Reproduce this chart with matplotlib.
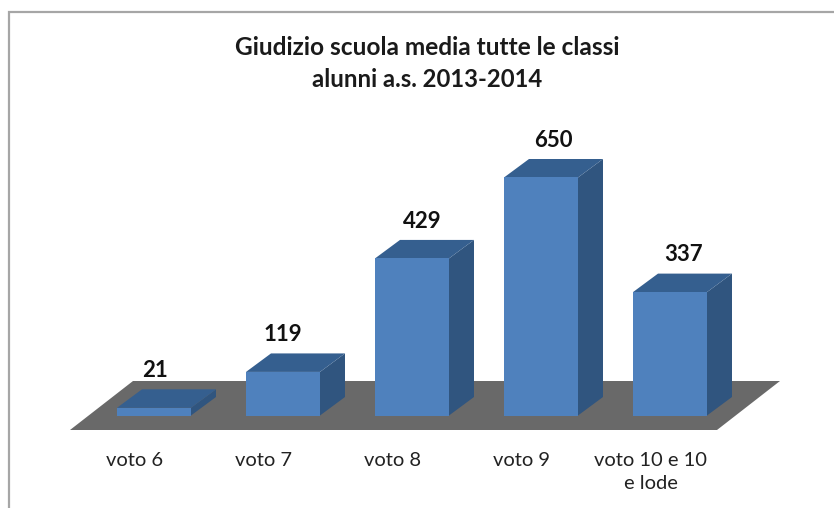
import matplotlib
matplotlib.use("Agg")
import matplotlib.pyplot as plt
from matplotlib.patches import Polygon

categories = ["voto 6", "voto 7", "voto 8", "voto 9", "voto 10 e 10\ne lode"]
values = [21, 119, 429, 650, 337]
# horizontal nudge of each value label, in points
label_shift = [1, 0, 7.5, 9, 9.5]

W, H = 834, 508
# pixel scale of the chart
px_x = 129.0
px_y = 238 / 650
x0_px, y0_px = 154, 415.5
bar_w = 74 / px_x
dx = 25 / px_x
dy = 18.5 / px_y

plt.rcParams["font.family"] = ["Lato", "DejaVu Sans"]

fig = plt.figure(figsize=(W / 100, H / 100), dpi=100)
ax = fig.add_axes([0, 0, 1, 1])
ax.set_xlim(-x0_px / px_x, (W - x0_px) / px_x)
ax.set_ylim(-(H - y0_px) / px_y, y0_px / px_y)
ax.axis("off")

# frame of the chart area, open at the right and bottom
ax.plot([9 / W, 9 / W, 1], [0, 1 - 12 / H, 1 - 12 / H], transform=ax.transAxes,
        color="#a6a6a6", lw=1.6, clip_on=False, solid_joinstyle="miter")

# floor
floor_low = -14.5 / px_y
floor_high = 34.5 / px_y
ax.add_patch(Polygon([(-84 / px_x, floor_low), (563 / px_x, floor_low),
                      (626 / px_x, floor_high), (-21 / px_x, floor_high)],
                     closed=True, fc="#696969", ec="none", zorder=1))

for i, v in enumerate(values):
    l, r = i - bar_w / 2, i + bar_w / 2
    ax.add_patch(Polygon([(r, 0), (r + dx, dy), (r + dx, v + dy), (r, v)],
                         closed=True, fc="#30557f", ec="none", zorder=2))
    ax.add_patch(Polygon([(l, v), (r, v), (r + dx, v + dy), (l + dx, v + dy)],
                         closed=True, fc="#355f8f", ec="none", zorder=2))
    ax.bar(i, v, width=bar_w, color="#4f81bd", zorder=3)
    ax.annotate(str(v), (i, v + dy), xytext=(label_shift[i], 6), textcoords="offset points",
                ha="center", va="bottom", fontsize=16, fontweight="bold",
                color="#111111")
    ax.annotate(categories[i], (i, 0), xytext=(-14, -26.5), textcoords="offset points",
                ha="center", va="top", fontsize=14.5, color="#222222", linespacing=1.4)

ax.text(427 / W, 1 - 47 / H, "Giudizio scuola media tutte le classi", transform=ax.transAxes,
        ha="center", va="center", fontsize=17.6, fontweight="bold", color="#1a1a1a")
ax.text(427 / W, 1 - 80 / H, "alunni a.s. 2013-2014", transform=ax.transAxes,
        ha="center", va="center", fontsize=17.2, fontweight="bold", color="#1a1a1a")

fig.savefig("out.png", dpi=100)
